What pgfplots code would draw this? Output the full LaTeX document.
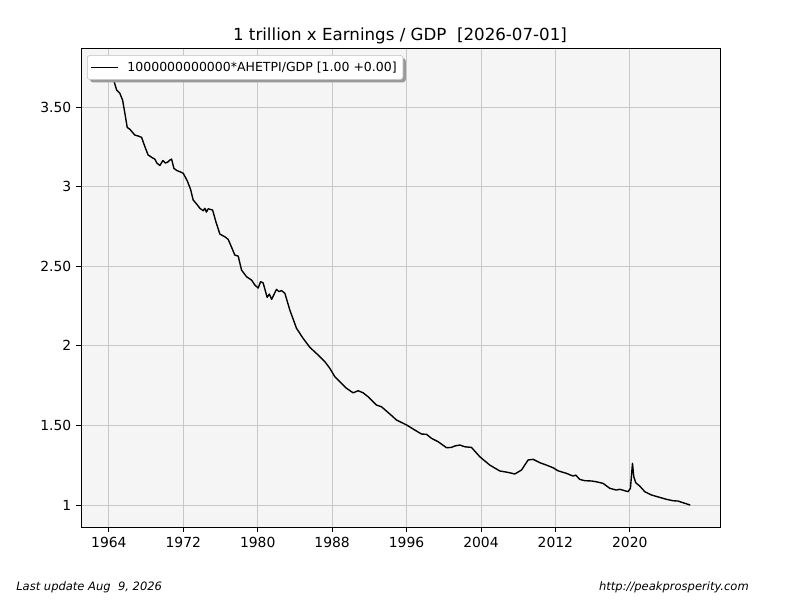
\documentclass[border=0pt]{standalone}
\usepackage{pgfplots}
\pgfplotsset{compat=1.18}
\usepackage{fontspec}
\setmainfont{DejaVu Sans}
\usetikzlibrary{shadows}
\definecolor{bgc}{RGB}{245,245,245}
\definecolor{gridc}{RGB}{200,200,200}
\begin{document}
\begin{tikzpicture}
\useasboundingbox (0,0) rectangle (576pt,432pt);
\begin{axis}[
  at={(58.32pt,52.56pt)}, anchor=south west,
  scale only axis, width=460.08pt, height=344.88pt,
  xmin=1961.0, xmax=2029.7, ymin=0.862, ymax=3.871,
  axis background/.style={fill=bgc},
  axis line style={line width=0.6pt},
  xtick={1964,1972,1980,1988,1996,2004,2012,2020},
  xticklabels={1964,1972,1980,1988,1996,2004,2012,2020},
  ytick={1,1.5,2,2.5,3,3.5},
  yticklabels={1,1.50,2,2.50,3,3.50},
  tick align=outside, tick pos=left,
  major tick length=3.5pt,
  tick style={line width=0.6pt, black},
  grid=major,
  major grid style={gridc, line width=0.6pt},
  ticklabel style={font=\fontsize{10}{12}\selectfont},
  /pgf/number format/assume math mode=true,
  legend style={at={(0.0094,0.985)}, anchor=north west, draw=gray!50, fill=white,
    rounded corners=2pt, font=\fontsize{9}{11}\selectfont,
    drop shadow={shadow xshift=2pt, shadow yshift=-2pt, fill=gray!80, opacity=1},
    inner xsep=2.5pt, inner ysep=2.5pt},
  legend image code/.code={%
    \pgfsetlinewidth{0.9pt}\pgfsetstrokecolor{black}%
    \pgfpathmoveto{\pgfpoint{0pt}{0pt}}\pgfpathlineto{\pgfpoint{19pt}{0pt}}\pgfusepath{stroke}%
    \pgfpathmoveto{\pgfpoint{0pt}{0pt}}\pgfpathlineto{\pgfpoint{24pt}{0pt}}\pgfusepath{use as bounding box}%
  },
]
\addplot[black, line width=1pt, line join=round] coordinates {
(1964.00,3.780) (1964.46,3.680) (1964.83,3.607) (1965.18,3.586) (1965.47,3.544)
(1965.72,3.460) (1965.97,3.372) (1966.26,3.360) (1966.79,3.324) (1967.15,3.318)
(1967.51,3.310) (1967.87,3.251) (1968.22,3.198) (1968.41,3.192) (1968.59,3.184)
(1968.94,3.173) (1969.16,3.148) (1969.48,3.133) (1969.80,3.164) (1970.07,3.148)
(1970.34,3.155) (1970.56,3.167) (1970.74,3.173) (1970.99,3.115) (1971.31,3.101)
(1971.63,3.094) (1971.99,3.084) (1972.42,3.037) (1972.78,2.983) (1973.06,2.916)
(1973.43,2.891) (1973.78,2.864) (1974.14,2.849) (1974.32,2.864) (1974.48,2.840)
(1974.67,2.861) (1975.15,2.853) (1975.50,2.780) (1975.93,2.702) (1976.47,2.685)
(1976.82,2.669) (1977.19,2.619) (1977.54,2.570) (1977.90,2.564) (1978.26,2.476)
(1978.80,2.434) (1979.34,2.413) (1979.69,2.382) (1980.05,2.363) (1980.31,2.403)
(1980.58,2.396) (1981.01,2.305) (1981.25,2.325) (1981.49,2.292) (1982.02,2.355)
(1982.27,2.341) (1982.56,2.347) (1982.92,2.330) (1983.45,2.225) (1984.17,2.110)
(1984.88,2.047) (1985.60,1.991) (1986.50,1.942) (1987.22,1.900) (1987.75,1.859)
(1988.29,1.806) (1988.83,1.775) (1989.55,1.733) (1990.26,1.705) (1990.80,1.718)
(1991.33,1.705) (1991.87,1.680) (1992.77,1.628) (1993.31,1.617) (1994.20,1.572)
(1994.92,1.534) (1996.00,1.503) (1996.89,1.471) (1997.61,1.446) (1998.15,1.444)
(1998.68,1.419) (1999.39,1.398) (2000.30,1.360) (2000.83,1.362) (2001.19,1.371)
(2001.73,1.377) (2002.26,1.366) (2002.98,1.362) (2003.88,1.303) (2004.95,1.251)
(2006.02,1.214) (2006.92,1.205) (2007.64,1.195) (2008.36,1.220) (2009.07,1.283)
(2009.61,1.287) (2010.33,1.266) (2011.04,1.251) (2011.76,1.234) (2012.29,1.215)
(2013.19,1.199) (2013.90,1.182) (2014.19,1.188) (2014.62,1.161) (2015.16,1.153)
(2015.88,1.151) (2016.42,1.146) (2017.13,1.136) (2017.85,1.105) (2018.57,1.094)
(2018.92,1.099) (2019.46,1.090) (2019.81,1.084) (2020.07,1.105) (2020.29,1.262)
(2020.43,1.178) (2020.64,1.140) (2021.07,1.119) (2021.61,1.084) (2022.33,1.063)
(2023.22,1.048) (2023.94,1.036) (2024.65,1.027) (2025.19,1.025) (2025.91,1.011)
(2026.50,1.000)
};
\addlegendentry{1000000000000*AHETPI/GDP [1.00 +0.00]}
\end{axis}
\node[anchor=base, font=\fontsize{12}{14}\selectfont] at (288pt,402.48pt) {1 trillion x Earnings / GDP\ \ [2026-07-01]};
\node[anchor=base west, inner sep=0pt, font=\itshape\fontsize{8.3}{10}\selectfont] at (11.52pt,6.84pt) {Last update Aug\ \ 9, 2026};
\node[anchor=base east, inner sep=0pt, font=\itshape\fontsize{8.3}{10}\selectfont] at (539.3pt,6.84pt) {http://peakprosperity.com};
\end{tikzpicture}
\end{document}
